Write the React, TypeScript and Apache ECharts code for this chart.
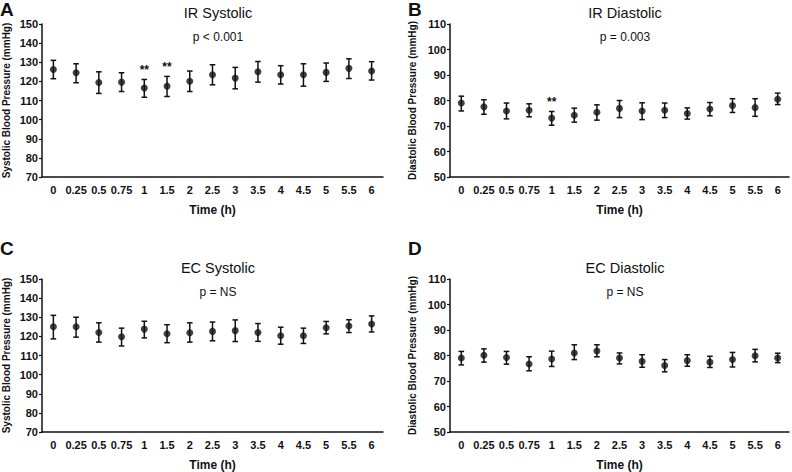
import React, { useEffect, useRef } from "react";
import * as echarts from "echarts";

const times = ["0", "0.25", "0.5", "0.75", "1", "1.5", "2", "2.5", "3", "3.5", "4", "4.5", "5", "5.5", "6"];

const irSysMean = [126.2, 124.5, 119.4, 119.6, 116.5, 117.5, 120.1, 123.5, 121.7, 125.0, 123.5, 123.5, 124.7, 126.8, 125.4];
const irSysUpper = [131.0, 129.2, 125.0, 124.5, 121.0, 122.6, 125.4, 128.7, 127.3, 130.4, 128.2, 129.2, 129.6, 131.8, 130.3];
const irSysLower = [121.4, 119.3, 113.7, 114.7, 111.7, 112.1, 114.7, 118.2, 116.1, 119.6, 118.6, 117.5, 120.0, 121.5, 120.7];
const irSysSig = ["", "", "", "", "**", "**", "", "", "", "", "", "", "", "", ""];

const irDiaMean = [79.0, 77.5, 75.9, 76.2, 73.1, 74.2, 75.4, 76.9, 75.9, 76.2, 74.9, 76.7, 78.0, 77.2, 80.5];
const irDiaUpper = [81.7, 80.3, 79.0, 78.7, 75.7, 77.0, 78.3, 80.0, 79.1, 79.0, 77.1, 79.2, 80.7, 80.7, 82.9];
const irDiaLower = [75.9, 74.6, 72.8, 73.6, 70.3, 71.5, 72.3, 73.3, 72.5, 73.3, 72.7, 74.0, 75.3, 73.8, 78.4];
const irDiaSig = ["", "", "", "", "**", "", "", "", "", "", "", "", "", "", ""];

const ecSysMean = [125.0, 125.0, 122.0, 119.8, 123.8, 121.4, 121.9, 122.6, 123.0, 122.0, 120.3, 120.3, 124.5, 125.4, 126.5];
const ecSysUpper = [131.0, 130.0, 127.1, 124.3, 127.9, 126.1, 127.1, 127.5, 128.6, 126.7, 124.8, 124.3, 127.8, 128.7, 130.7];
const ecSysLower = [118.7, 119.6, 117.0, 115.0, 119.2, 116.7, 117.0, 117.7, 117.3, 117.4, 115.9, 116.3, 121.3, 122.0, 122.3];

const ecDiaMean = [79.0, 80.1, 79.2, 76.7, 78.6, 81.0, 81.8, 79.0, 77.7, 76.1, 78.0, 77.4, 78.4, 79.9, 79.0];
const ecDiaUpper = [81.6, 82.6, 81.6, 79.5, 81.7, 84.2, 84.2, 81.0, 80.3, 78.4, 80.3, 79.7, 81.2, 82.4, 80.9];
const ecDiaLower = [76.3, 77.4, 76.6, 74.0, 75.7, 78.4, 79.5, 76.7, 75.4, 73.6, 75.8, 75.3, 75.5, 77.5, 77.2];

const sysTicks = { min: 70, max: 150, interval: 10 };
const diaTicks = { min: 50, max: 110, interval: 10 };

const FONT = "Liberation Sans, Arial, sans-serif";
const INK = "#111";

export default function App() {
  const ref = useRef<HTMLDivElement>(null);
  useEffect(() => {
    document.body.style.margin = "0";
    const chart = echarts.init(ref.current!, null, { renderer: "svg" });

    const grids = [
      { left: 42, top: 24, width: 341, height: 153 },
      { left: 450, top: 24, width: 339, height: 153 },
      { left: 42, top: 279, width: 341, height: 153 },
      { left: 450, top: 279, width: 339, height: 153 },
    ];
    const panels = [
      { mean: irSysMean, up: irSysUpper, lo: irSysLower, sig: irSysSig, ticks: sysTicks, yname: "Systolic Blood Pressure (mmHg)", title: "IR Systolic", p: "p < 0.001", letter: "A" },
      { mean: irDiaMean, up: irDiaUpper, lo: irDiaLower, sig: irDiaSig, ticks: diaTicks, yname: "Diastolic Blood Pressure (mmHg)", title: "IR Diastolic", p: "p = 0.003", letter: "B" },
      { mean: ecSysMean, up: ecSysUpper, lo: ecSysLower, sig: null, ticks: sysTicks, yname: "Systolic Blood Pressure (mmHg)", title: "EC Systolic", p: "p = NS", letter: "C" },
      { mean: ecDiaMean, up: ecDiaUpper, lo: ecDiaLower, sig: null, ticks: diaTicks, yname: "Diastolic Blood Pressure (mmHg)", title: "EC Diastolic", p: "p = NS", letter: "D" },
    ];

    const xAxis = panels.map((_, i) => ({
      type: "category",
      gridIndex: i,
      data: times,
      boundaryGap: true,
      name: "Time (h)",
      nameLocation: "middle",
      nameGap: 27,
      nameTextStyle: { fontFamily: FONT, fontSize: 12, fontWeight: "bold", color: INK },
      axisLine: { lineStyle: { color: INK, width: 1.5 } },
      axisTick: { alignWithLabel: true, length: 3, lineStyle: { color: INK, width: 1.2 } },
      axisLabel: { fontFamily: FONT, fontSize: 11, fontWeight: "bold", color: INK, margin: 7, interval: 0 },
      splitLine: { show: false },
    }));
    const yAxis = panels.map((p, i) => ({
      type: "value",
      gridIndex: i,
      min: p.ticks.min,
      max: p.ticks.max,
      interval: p.ticks.interval,
      name: p.yname,
      nameLocation: "middle",
      nameRotate: 90,
      nameGap: i % 2 === 0 ? 31 : 33,
      nameTextStyle: { fontFamily: FONT, fontSize: 10, fontWeight: "bold", color: INK },
      axisLine: { show: true, lineStyle: { color: INK, width: 1.5 } },
      axisTick: { show: true, length: 3, lineStyle: { color: INK, width: 1.2 } },
      axisLabel: { fontFamily: FONT, fontSize: 11, fontWeight: "bold", color: INK, margin: 4 },
      splitLine: { show: false },
    }));

    const series: any[] = [];
    panels.forEach((p, i) => {
      const data = p.mean.map((_, k) => [k, p.lo[k], p.up[k], p.sig ? p.sig[k] : ""]);
      series.push({
        type: "custom",
        xAxisIndex: i,
        yAxisIndex: i,
        data,
        renderItem: (params: any, api: any) => {
          const x = api.value(0);
          const lo = api.coord([x, api.value(1)]);
          const hi = api.coord([x, api.value(2)]);
          const hw = 2.8;
          const style = { stroke: INK, lineWidth: 1.5 };
          const children: any[] = [
            { type: "line", shape: { x1: hi[0], y1: hi[1], x2: lo[0], y2: lo[1] }, style },
            { type: "line", shape: { x1: hi[0] - hw, y1: hi[1], x2: hi[0] + hw, y2: hi[1] }, style },
            { type: "line", shape: { x1: lo[0] - hw, y1: lo[1], x2: lo[0] + hw, y2: lo[1] }, style },
          ];
          const sig = data[params.dataIndex][3];
          if (sig) {
            children.push({
              type: "text",
              x: hi[0],
              y: hi[1] - 3,
              style: { text: sig, fill: INK, font: `bold 12px ${FONT}`, align: "center", verticalAlign: "bottom" },
            });
          }
          return { type: "group", children };
        },
        z: 2,
      });
      series.push({
        type: "scatter",
        xAxisIndex: i,
        yAxisIndex: i,
        data: p.mean.map((v, k) => [k, v]),
        symbol: "circle",
        symbolSize: 7,
        itemStyle: { color: INK },
        z: 3,
      });
    });

    const centers = [213, 620, 213, 620];
    const title: any[] = [];
    panels.forEach((p, i) => {
      const g = grids[i];
      title.push({
        text: p.title,
        left: centers[i],
        top: g.top - 24,
        textAlign: "center",
        textStyle: { fontFamily: FONT, fontSize: 14.5, fontWeight: "normal", color: INK },
      });
      title.push({
        text: p.p,
        left: centers[i],
        top: g.top + 2,
        textAlign: "center",
        textStyle: { fontFamily: FONT, fontSize: 12, fontWeight: "normal", color: INK },
      });
      title.push({
        text: p.letter,
        left: i % 2 === 0 ? 0 : 408,
        top: i < 2 ? 0 : 239,
        padding: 0,
        textStyle: { fontFamily: FONT, fontSize: 19, fontWeight: "bold", color: INK },
      });
    });

    chart.setOption({
      animation: false,
      backgroundColor: "#fff",
      title,
      grid: grids,
      xAxis,
      yAxis,
      series,
    });
    return () => chart.dispose();
  }, []);
  return <div ref={ref} style={{ width: 792, height: 472 }} />;
}
